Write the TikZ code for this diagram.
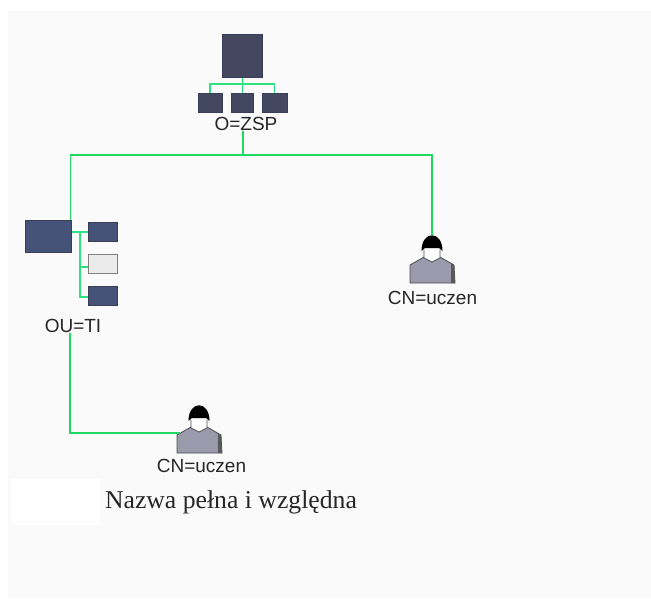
\documentclass[tikz,border=0pt]{standalone}
\usepackage{fontspec}
\setmainfont{Liberation Serif}
\setsansfont{Liberation Sans}
\usetikzlibrary{calc}
\definecolor{panel}{HTML}{FAFAFA}
\definecolor{trunk}{HTML}{1FD862}
\definecolor{twig}{HTML}{2FE080}
\definecolor{boxfill}{HTML}{43475F}
\definecolor{boxblue}{HTML}{455378}
\definecolor{boxedge}{HTML}{3A3E56}
\definecolor{cloth}{HTML}{9A9AAC}
\tikzset{objbox/.style={rectangle,draw=boxedge,fill=boxfill,line width=1pt,inner sep=0pt},ouitem/.style={objbox,fill=boxblue,minimum width=29pt,minimum height=19pt},kidbox/.style={objbox,minimum height=19pt},dnlabel/.style={font=\sffamily\fontsize{19}{22}\selectfont,inner sep=0pt,text=black!85},trunkline/.style={trunk,line width=1.6pt},twigline/.style={twig,line width=1.5pt},
person/.pic={
\fill[cloth,draw=black!70,line width=.8pt] (-22,-18)--(-8,-26)--(0,-22)--(8,-26)--(22,-18)--(23,0)--(-22,0)--cycle;
\fill[black!65] (19,-20)--(22,-18)--(23,0)--(19,0)--cycle;
\fill[white,draw=black!70,line width=.8pt] (-8,-33)--(-8,-25)--(0,-21)--(8,-25)--(8,-33);
\fill[black] (-10.5,-32) .. controls (-10.5,-53) and (10.5,-53) .. (10.5,-32) -- (7,-35)--(-7,-35)--cycle;
\coordinate (-top) at (0,-48);
\coordinate (-arm) at (-19,-20);
}}
\begin{document}
\begin{tikzpicture}[x=1pt,y=-1pt]
\useasboundingbox (0,0) rectangle (651,598);
\fill[panel] (8,11) rectangle (651,598);
\fill[white] (11,479) rectangle (100,525);
% top of the tree
\node[objbox,minimum width=40pt,minimum height=43pt] (root) at (242.5,56) {};
\node[kidbox,minimum width=24pt] (kidA) at (210,102.5) {};
\node[kidbox,minimum width=22pt] (kidB) at (242.5,102.5) {};
\node[kidbox,minimum width=25pt] (kidC) at (274.5,102.5) {};
\node[dnlabel] (orglabel) at (246,124) {O=ZSP};
\coordinate (rootbus) at (242.5,84);
\coordinate (bus) at (243,155);
\draw[trunkline] (root)--(rootbus);
\foreach \kid in {kidA,kidB,kidC}{
\draw[twigline] (rootbus)-|(\kid.north);
}
% organizational unit
\node[objbox,fill=boxblue,minimum width=46pt,minimum height=32pt] (oubox) at (48,236) {};
\node[ouitem] (itemA) at (102.5,232) {};
\node[ouitem,fill=black!8,draw=black!50] (itemB) at (102.5,263.5) {};
\node[ouitem] (itemC) at (102.5,295.5) {};
\node[dnlabel] (oulabel) at (73,326) {OU=TI};
\coordinate (ouspine) at (80,232);
\draw[twigline] ([yshift=4pt]oubox.east)--(ouspine)--(itemA.west);
\draw[twigline] (ouspine)|-([yshift=-3.5pt]itemB.west);
\draw[twigline] (ouspine)|-([yshift=-1.5pt]itemC.west);
% users
\pic (userA) at (432,283) {person};
\pic (userB) at (199,453) {person};
\node[dnlabel] (cnlabelA) at (432.5,298) {CN=uczen};
\node[dnlabel] (cnlabelB) at (201.5,466) {CN=uczen};
\draw[trunkline] ([xshift=-3pt]orglabel.south)--(bus);
\draw[trunkline] (bus)-|([xshift=-1pt]oubox.north east);
\draw[trunkline] (bus)-|(userA-top);
\draw[trunkline] ([xshift=-3pt]oulabel.south)|-(userB-arm);
\node[font=\fontsize{25.7}{30}\selectfont,inner sep=0pt,text=black!85] (caption) at (231,502) {Nazwa pełna i względna};
\end{tikzpicture}
\end{document}
